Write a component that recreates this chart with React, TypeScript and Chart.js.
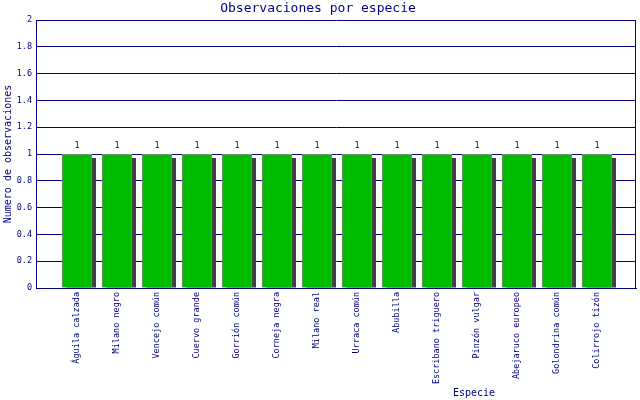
import React, { useRef, useEffect } from 'react';
import { Chart, ChartConfiguration, registerables, Plugin } from 'chart.js';

Chart.register(...registerables);

// Chart data
const species = [
  'Águila calzada',
  'Milano negro',
  'Vencejo común',
  'Cuervo grande',
  'Gorrión común',
  'Corneja negra',
  'Milano real',
  'Urraca común',
  'Abubilla',
  'Escribano triguero',
  'Pinzón vulgar',
  'Abejaruco europeo',
  'Golondrina común',
  'Colirrojo tizón',
];
const observations = [1, 1, 1, 1, 1, 1, 1, 1, 1, 1, 1, 1, 1, 1];
const yTickValues = [0, 0.2, 0.4, 0.6, 0.8, 1, 1.2, 1.4, 1.6, 1.8, 2];
const yTickLabels = ['0', '0.2', '0.4', '0.6', '0.8', '1', '1.2', '1.4', '1.6', '1.8', '2'];

const NAVY = '#000080';
const MONO = '"DejaVu Sans Mono", "Liberation Mono", monospace';

// shadow behind bars, value labels, plot frame and x title
const decorPlugin: Plugin<'bar'> = {
  id: 'decor',
  beforeDatasetsDraw(chart) {
    const { ctx, chartArea } = chart;
    const meta = chart.getDatasetMeta(0);
    ctx.save();
    ctx.beginPath();
    ctx.rect(chartArea.left, chartArea.top, chartArea.right - chartArea.left, chartArea.bottom - chartArea.top);
    ctx.clip();
    ctx.fillStyle = '#404040';
    meta.data.forEach((el: any) => {
      const w = el.width;
      ctx.fillRect(el.x - w / 2 + 4, el.y + 4, w, el.base - el.y - 4);
    });
    ctx.restore();
  },
  afterDraw(chart) {
    const { ctx, chartArea } = chart;
    const meta = chart.getDatasetMeta(0);
    ctx.save();
    // value labels
    ctx.fillStyle = NAVY;
    ctx.font = `8.5px ${MONO}`;
    ctx.textAlign = 'center';
    ctx.textBaseline = 'middle';
    meta.data.forEach((el: any, i: number) => {
      ctx.fillText(String(observations[i]), el.x, el.y - 8);
    });
    // right frame line
    ctx.strokeStyle = NAVY;
    ctx.lineWidth = 1;
    ctx.beginPath();
    ctx.moveTo(Math.round(chartArea.right) - 0.5, chartArea.top);
    ctx.lineTo(Math.round(chartArea.right) - 0.5, chartArea.bottom);
    ctx.stroke();
    // x axis title
    ctx.font = `10px ${MONO}`;
    ctx.fillText('Especie', 474, 393);
    ctx.restore();
  },
};

const App: React.FC = () => {
  const chartRef = useRef<HTMLCanvasElement>(null);
  const chartInstance = useRef<Chart | null>(null);

  useEffect(() => {
    document.body.style.margin = '0';
    if (!chartRef.current) return;
    if (chartInstance.current) chartInstance.current.destroy();
    const ctx = chartRef.current.getContext('2d');
    if (!ctx) return;

    const config: ChartConfiguration<'bar'> = {
      type: 'bar',
      data: {
        datasets: [
          {
            label: 'Observaciones',
            data: species.map((_, i) => ({ x: i + 1, y: observations[i] })) as any,
            backgroundColor: '#00bb00',
            borderColor: '#888888',
            borderWidth: 1,
            barThickness: 30,
          },
        ],
      },
      options: {
        responsive: false,
        animation: false,
        layout: { padding: { top: 0, right: 4, left: 0, bottom: 0 } },
        plugins: {
          legend: { display: false },
          tooltip: { enabled: false },
          title: {
            display: true,
            text: 'Observaciones por especie',
            color: NAVY,
            font: { family: MONO, size: 13, weight: 'normal' },
            padding: { top: 1, bottom: 3.4 },
          },
        },
        scales: {
          x: {
            type: 'linear',
            min: -0.025,
            max: 14.975,
            offset: false,
            grid: { display: false, drawTicks: false },
            border: { display: true, color: NAVY },
            afterBuildTicks: (scale: any) => {
              scale.ticks = species.map((_, i) => ({ value: i + 1 }));
            },
            afterFit: (scale: any) => {
              scale.height = 112;
            },
            ticks: {
              autoSkip: false,
              minRotation: 90,
              maxRotation: 90,
              padding: 4,
              color: NAVY,
              font: { family: MONO, size: 8.5 },
              callback: (value: any) => species[Number(value) - 1] ?? '',
            },
          },
          y: {
            min: 0,
            max: 2,
            grid: { color: NAVY, lineWidth: 1, drawTicks: false },
            border: { display: true, color: NAVY },
            afterBuildTicks: (scale: any) => {
              scale.ticks = yTickValues.map(v => ({ value: v }));
            },
            afterFit: (scale: any) => {
              scale.width = 36;
            },
            title: {
              display: true,
              text: 'Numero de observaciones',
              color: NAVY,
              font: { family: MONO, size: 10 },
              padding: { top: 2, bottom: 0 },
            },
            ticks: {
              padding: 4,
              color: NAVY,
              font: { family: MONO, size: 8.5 },
              callback: (value: any) => {
                const idx = yTickValues.findIndex(v => Math.abs(v - Number(value)) < 1e-6);
                return idx >= 0 ? yTickLabels[idx] : '';
              },
            },
          },
        },
      },
      plugins: [decorPlugin],
    };

    chartInstance.current = new Chart(ctx, config);

    return () => {
      if (chartInstance.current) {
        chartInstance.current.destroy();
        chartInstance.current = null;
      }
    };
  }, []);

  return (
    <div style={{ width: 640, height: 400, background: '#ffffff' }}>
      <canvas ref={chartRef} width={640} height={400}></canvas>
    </div>
  );
};

export default App;
